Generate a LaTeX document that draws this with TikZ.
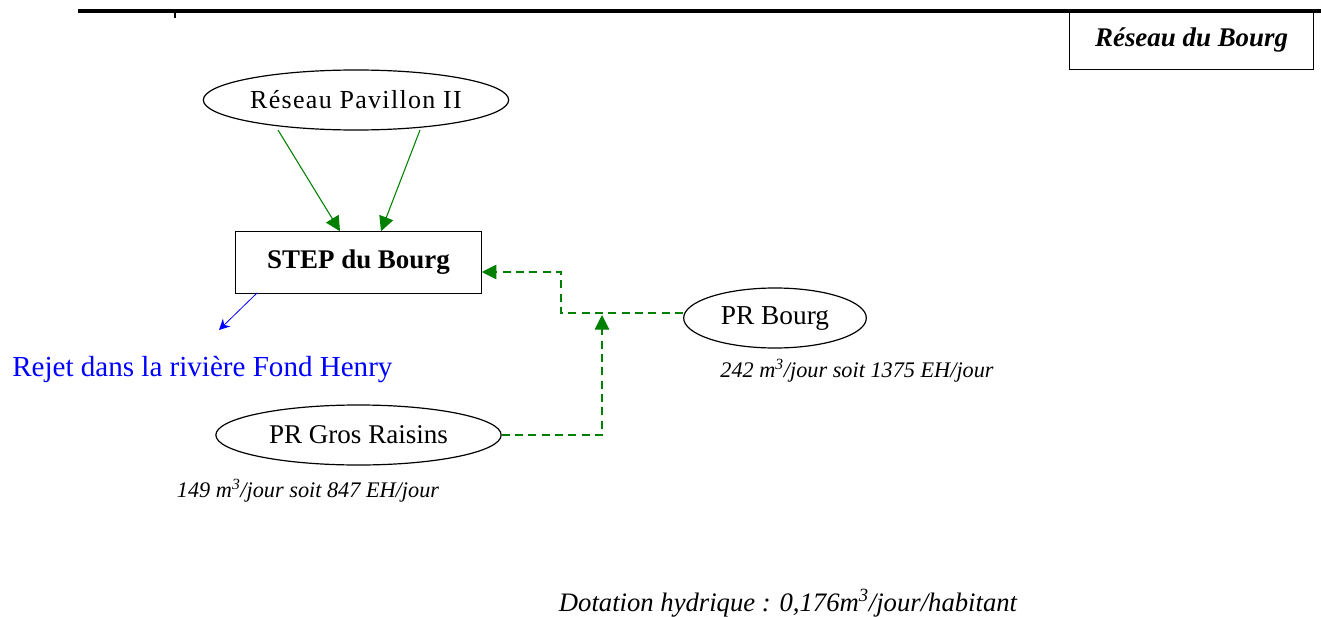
\documentclass[tikz,border=0pt]{standalone}
\usepackage{fontspec}
\setmainfont{Liberation Serif}
\usetikzlibrary{arrows.meta,shapes.geometric}
\definecolor{flowgreen}{RGB}{0,128,0}
\definecolor{outblue}{RGB}{0,0,255}
\newcommand{\fs}[1]{\fontsize{#1}{#1}\selectfont}
\tikzset{
  px/.style={x=0.75pt,y=-0.75pt},
  oval/.style={draw,ellipse,line width=0.9pt,inner sep=0pt},
  plant/.style={draw,rectangle,line width=0.9pt,inner sep=0pt},
  feed/.style={draw=flowgreen,line width=0.8pt,-{Triangle[length=11pt,width=11pt]}},
  feeddash/.style={feed,dash pattern=on 6pt off 4pt},
  note/.style={font=\fs{16.7}\itshape,inner sep=0pt},
}
\begin{document}
\begin{tikzpicture}[px]
\useasboundingbox (0,0) rectangle (1321,617);
% header rule
\draw[line width=3pt] (78,11) -- (1321,11);
\draw[line width=2pt] (175,12) -- (175,18);
% title box
\node[plant,minimum width=183pt,minimum height=44pt,anchor=north west,font=\fs{20.2}\bfseries\itshape] (title) at (1069,10) {Réseau du Bourg};
% nodes
\node[oval,minimum width=229pt,minimum height=45pt,font=\fs{19.5}\addfontfeature{LetterSpace=5}] (pav) at (356,100) {Réseau Pavillon II};
\node[plant,minimum width=184pt,minimum height=46pt,font=\fs{20.2}\bfseries] (step) at (358.5,262.5) {STEP du Bourg};
\node[oval,minimum width=137pt,minimum height=45pt,font=\fs{20.5}] (prb) at (775,318) {PR Bourg};
\node[oval,minimum width=214pt,minimum height=45pt,font=\fs{20.3}] (prg) at (358.5,435) {PR Gros Raisins};
\node[font=\fs{21.8},text=outblue,inner sep=0pt,anchor=west] (rejet) at (12,370) {Rejet dans la rivière Fond Henry};
% flow notes
\node[note] (nb) at (857,371) {242 m\textsuperscript{3}/jour soit 1375 EH/jour};
\node[note] (ng) at (308,491) {149 m\textsuperscript{3}/jour soit 847 EH/jour};
\node[note,font=\fs{20}\itshape] (dot) at (788,603) {Dotation hydrique : 0,176m\textsuperscript{3}/jour/habitant};
% connectors
\coordinate (p1) at (278,130);
\coordinate (p2) at (420,130);
\draw[feed] (p1) -- (step.north -| 340,0);
\draw[feed] (p2) -- (step.north -| 381,0);
\coordinate (jb) at (561,313);
\coordinate (jg) at (602,435);
\draw[feeddash] (prb.west |- jb) -- (jb) -- (561,272) -- (step.east |- 0,272);
\draw[feeddash] (prg.east |- jg) -- (jg) -- (602,315);
\coordinate (out) at (219,330);
\draw[draw=outblue,line width=0.6pt,-{Stealth[length=8pt,width=8pt]}] (257,293) -- (out);
\end{tikzpicture}
\end{document}
